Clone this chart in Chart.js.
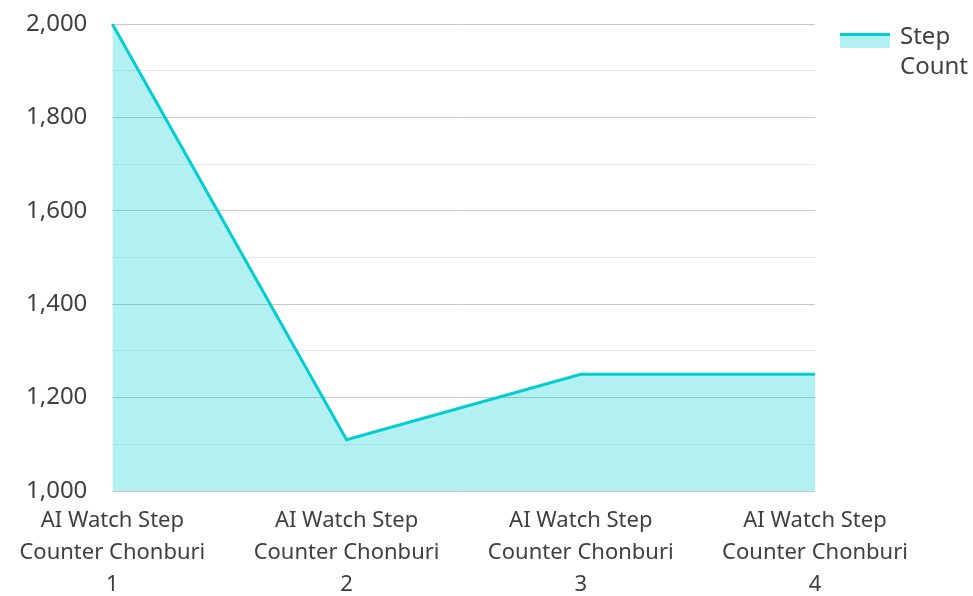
<!DOCTYPE html>
<html><head><meta charset="utf-8">
<script src="https://cdn.jsdelivr.net/npm/chart.js@4"></script>
<style>html,body{margin:0;padding:0;background:#fff}#wrap{width:973px;height:596px}</style>
</head><body><div id="wrap"><canvas id="c" width="973" height="596"></canvas></div>
<script>
const categories = [
  ['AI Watch Step','Counter Chonburi','1'],
  ['AI Watch Step','Counter Chonburi','2'],
  ['AI Watch Step','Counter Chonburi','3'],
  ['AI Watch Step','Counter Chonburi','4']
];
const seriesName = ['Step','Count'];
const stepCounts = [2000, 1110, 1250, 1250];
const yMin = 1000, yMax = 2000, yStep = 100;

const lineColor = '#00CED1';
const fillColor = 'rgba(0,206,209,0.3)';
const textColor = '#404040';

const legendBoxPlugin = {
  id: 'legendBoxCustom',
  afterDraw(chart) {
    const lg = chart.legend;
    if (!lg || !lg.legendHitBoxes || !lg.legendHitBoxes.length) return;
    const hb = lg.legendHitBoxes[0];
    const ctx = chart.ctx;
    const bw = 50;
    const top = hb.top + 8;
    ctx.save();
    ctx.fillStyle = fillColor;
    ctx.fillRect(hb.left, top, bw, 15);
    ctx.fillStyle = lineColor;
    ctx.fillRect(hb.left, top, bw, 3);
    ctx.restore();
  }
};

new Chart(document.getElementById('c'), {
  type: 'line',
  data: {
    labels: categories,
    datasets: [{
      label: seriesName.join(' '),
      data: stepCounts,
      borderColor: lineColor,
      backgroundColor: fillColor,
      borderWidth: 3,
      fill: 'start',
      tension: 0,
      pointRadius: 0
    }]
  },
  options: {
    responsive: false,
    animation: false,
    layout: { padding: { top: 0, right: 0, left: 1, bottom: 0 } },
    plugins: {
      tooltip: { enabled: false },
      legend: {
        position: 'right',
        align: 'start',
        maxWidth: 158,
        labels: {
          font: { family: 'Noto Sans', size: 24, lineHeight: 1.25 },
          color: textColor,
          boxWidth: 48,
          boxHeight: 15,
          padding: 25,
          generateLabels: (chart) => [{
            text: seriesName,
            fillStyle: 'rgba(0,0,0,0)',
            strokeStyle: 'rgba(0,0,0,0)',
            fontColor: textColor,
            lineWidth: 0,
            hidden: false,
            datasetIndex: 0
          }]
        }
      }
    },
    scales: {
      x: {
        offset: false,
        grid: { display: false, drawTicks: false },
        border: { display: false },
        afterFit: (s) => { s.height = 105; },
        ticks: {
          autoSkip: false, maxRotation: 0, minRotation: 0,
          padding: 14,
          color: textColor,
          font: { family: 'Noto Sans', size: 22, lineHeight: 1.4545 }
        }
      },
      y: {
        min: yMin, max: yMax,
        afterFit: (s) => { s.paddingTop = 24; },
        grid: {
          drawTicks: false,
          lineWidth: 1,
          color: (c) => (c.tick && c.tick.value % 200 === 0) ? '#c8c8c8' : '#e8e8e8'
        },
        border: { display: false },
        ticks: {
          stepSize: yStep,
          padding: 25,
          color: textColor,
          font: { family: 'Noto Sans', size: 24 },
          callback: (v) => v % 200 === 0 ? v.toLocaleString('en-US') : ''
        }
      }
    }
  },
  plugins: [legendBoxPlugin]
});
</script></body></html>
